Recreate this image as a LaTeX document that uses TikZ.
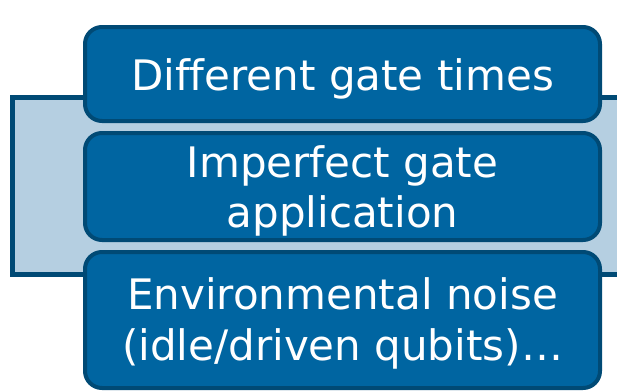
\documentclass[tikz,border=0pt]{standalone}
\usepackage{fontspec}
\setmainfont[Ligatures={NoCommon}]{DejaVu Sans}
\definecolor{boxfill}{RGB}{0,101,161}
\definecolor{boxedge}{RGB}{0,74,117}
\definecolor{panelfill}{RGB}{181,207,225}
\tikzset{
  panel/.style={draw=boxedge, fill=panelfill, line width=5pt},
  itembox/.style={draw=boxedge, fill=boxfill, line width=4pt, rounded corners=17pt,
    minimum width=515pt, inner sep=0pt, outer sep=0pt},
  itemtext/.style={text=white, align=center, inner sep=0pt,
    font=\fontsize{42}{50.5}\selectfont}
}
\begin{document}
\begin{tikzpicture}[x=1pt, y=1pt]
  \useasboundingbox (0,0) rectangle (617,-391);
  \begin{scope}
    \clip (0,0) rectangle (617,-391);
    % light panel behind the three items
    \draw[panel] (12.5,-97.5) rectangle (640,-274.5);
  \end{scope}
  % item boxes
  \node[itembox, minimum height=94pt] (b1) at (342.5,-74) {};
  \node[itembox, minimum height=107pt] (b2) at (342.5,-186.5) {};
  \node[itembox, minimum height=136pt] (b3) at (342.5,-320) {};
  % labels
  \node[itemtext] (t1) at (342.5,-79.4) {Different gate times};
  \node[itemtext] (t2) at (342.5,-190.9) {Imperfect gate\\application};
  \node[itemtext] (t3) at (342.5,-323.4) {Environmental noise\\(idle/driven qubits)…};
\end{tikzpicture}
\end{document}
